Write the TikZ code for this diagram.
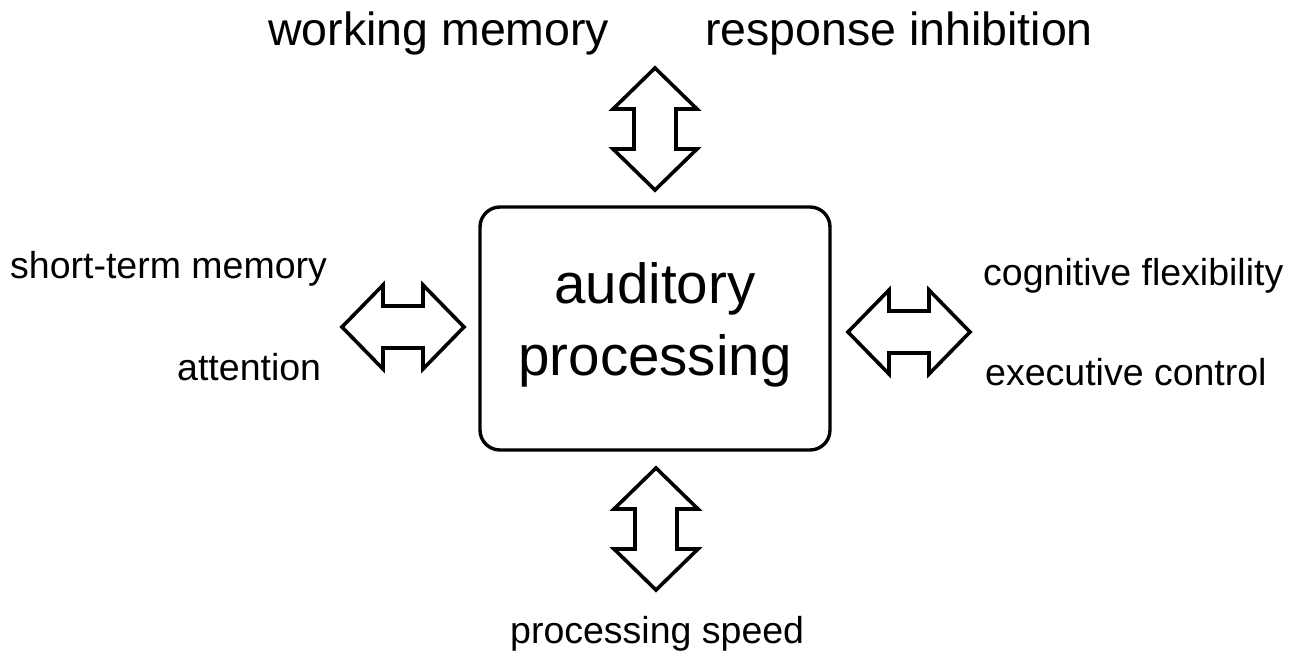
\documentclass[tikz,border=0pt]{standalone}
\usepackage{fontspec}
\setmainfont{Liberation Sans}
\begin{document}
\begin{tikzpicture}[x=1pt,y=-1pt,
  blockarrow/.style={draw=black, line width=3.6pt, fill=white, line join=miter},
  pics/dblarrow/.style={code={
    \draw[blockarrow] (0,-61) -- (42,-20) -- (21,-20) -- (21,20) -- (42,20) -- (0,61)
      -- (-42,20) -- (-21,20) -- (-21,-20) -- (-42,-20) -- cycle;}},
  toplabel/.style={inner sep=0pt, anchor=base west, font=\fontsize{46.5}{50}\selectfont},
  sidelabel/.style={inner sep=0pt, anchor=base west, font=\fontsize{37.5}{40}\selectfont},
  mainbox/.style={draw=black, line width=3.4pt, rounded corners=20pt, minimum width=350pt, minimum height=243pt, inner sep=0pt},
  maintext/.style={inner sep=0pt, align=center, font=\fontsize{56.5}{72}\selectfont}
]
\useasboundingbox (0,0) rectangle (1305,653);
\node[mainbox] (ap) at (655,328.5) {};
\node[maintext] (aptext) at (655,324.7) {auditory\\processing};

\pic at (655,129) {dblarrow};
\pic at (656,529) {dblarrow};
\pic[rotate=90] at (403,327) {dblarrow};
\pic[rotate=90] at (909,332) {dblarrow};

\node[toplabel] (wm) at (268,45) {working memory};
\node[toplabel] (ri) at (705,45) {response inhibition};
\node[sidelabel] (stm) at (10,278) {short-term memory};
\node[sidelabel] (att) at (177,380) {attention};
\node[sidelabel] (cf) at (983,285) {cognitive flexibility};
\node[sidelabel] (ec) at (985,385) {executive control};
\node[sidelabel] (ps) at (510,643) {processing speed};
\end{tikzpicture}
\end{document}
